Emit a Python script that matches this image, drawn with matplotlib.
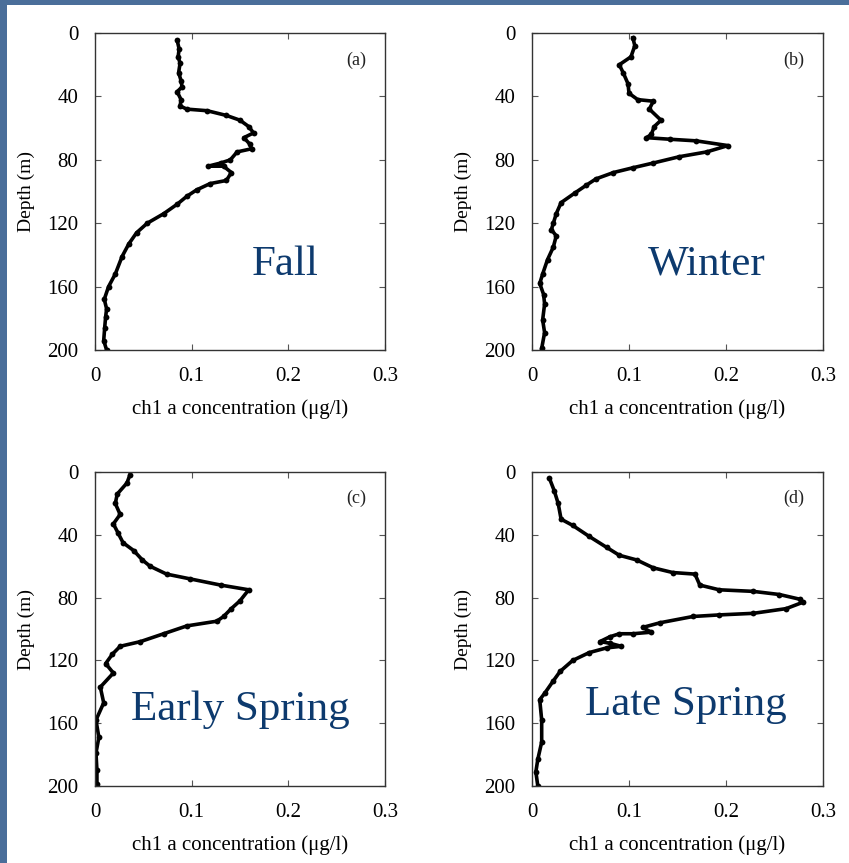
import matplotlib
matplotlib.use("Agg")
import matplotlib.pyplot as plt
from matplotlib.patches import Rectangle

plt.rcParams["font.family"] = ["Liberation Serif", "DejaVu Serif"]

# chl a profiles: depth (m) and concentration (ug/l) per season
FALL_DEPTH = [4.6, 10, 15, 19, 25, 30, 34, 37, 42, 46, 48, 49, 52, 55, 59, 63,
              66, 70, 73, 75, 80, 82, 84, 84, 88, 93, 95, 99, 103, 108, 114,
              120, 126, 133, 141, 152, 160, 168, 174, 179, 186, 194, 200]
FALL_CONC = [0.085, 0.087, 0.086, 0.088, 0.0865, 0.089, 0.090, 0.085, 0.089,
             0.088, 0.095, 0.116, 0.136, 0.150, 0.159, 0.164, 0.154, 0.160,
             0.162, 0.147, 0.140, 0.130, 0.117, 0.133, 0.141, 0.136, 0.119,
             0.105, 0.095, 0.085, 0.071, 0.054, 0.043, 0.035, 0.028, 0.021,
             0.014, 0.0096, 0.012, 0.011, 0.010, 0.009, 0.012]

WINTER_DEPTH = [3, 8, 15, 20, 25, 32, 38, 42, 43, 48, 55, 59, 64, 66, 67, 68,
                71, 75, 78, 82, 85, 88, 92, 96, 101, 107, 114, 120, 124, 128,
                135, 143, 152, 158, 165, 171, 181, 189, 199]
WINTER_CONC = [0.104, 0.106, 0.102, 0.090, 0.094, 0.099, 0.100, 0.109, 0.125,
               0.121, 0.133, 0.126, 0.123, 0.118, 0.142, 0.169, 0.202, 0.180,
               0.152, 0.125, 0.104, 0.084, 0.066, 0.056, 0.044, 0.030, 0.025,
               0.022, 0.020, 0.025, 0.022, 0.016, 0.011, 0.008, 0.012, 0.013,
               0.011, 0.013, 0.010]

EARLY_DEPTH = [2, 7, 14, 20, 27, 33, 39, 45, 50, 56, 60, 65, 68, 72, 75, 82,
               87, 92, 95, 98, 103, 108, 111, 116, 122, 128, 137, 147, 158,
               169, 179, 190, 199]
EARLY_CONC = [0.036, 0.033, 0.023, 0.021, 0.026, 0.019, 0.024, 0.029, 0.040,
              0.049, 0.057, 0.074, 0.098, 0.130, 0.159, 0.150, 0.141, 0.133,
              0.126, 0.095, 0.071, 0.047, 0.026, 0.018, 0.011, 0.019, 0.0055,
              0.009, 0.001, 0.004, 0.001, 0.002, 0.002]

LATE_DEPTH = [4, 12, 20, 30, 34, 41, 48, 53, 56, 61, 64, 65, 72, 75, 76, 78,
              81, 83, 87, 90, 91, 92, 96, 99, 102, 103, 103, 105, 108, 109,
              111, 112, 115, 120, 127, 133, 141, 145, 158, 172, 183, 191, 200]
LATE_CONC = [0.018, 0.023, 0.027, 0.030, 0.042, 0.059, 0.077, 0.090, 0.108,
             0.125, 0.145, 0.168, 0.173, 0.193, 0.228, 0.255, 0.276, 0.279,
             0.262, 0.228, 0.193, 0.166, 0.132, 0.114, 0.123, 0.104, 0.090,
             0.080, 0.070, 0.080, 0.092, 0.077, 0.059, 0.042, 0.029, 0.022,
             0.013, 0.008, 0.010, 0.010, 0.006, 0.004, 0.006]

PANELS = [
    ("(a)", "Fall", FALL_CONC, FALL_DEPTH, (0.655, 0.268)),
    ("(b)", "Winter", WINTER_CONC, WINTER_DEPTH, (0.60, 0.27)),
    ("(c)", "Early Spring", EARLY_CONC, EARLY_DEPTH, (0.50, 0.242)),
    ("(d)", "Late Spring", LATE_CONC, LATE_DEPTH, (0.53, 0.258)),
]
X_TICKS = [0, 0.1, 0.2, 0.3]
X_TICK_LABELS = ["0", "0.1", "0.2", "0.3"]
Y_TICKS = [0, 40, 80, 120, 160, 200]

SLIDE_BLUE = "#4a6e9a"
SEASON_COLOR = "#0d3a6e"

fig = plt.figure(figsize=(8.49, 8.63), dpi=100)
fig.patch.set_facecolor(SLIDE_BLUE)
# white slide area, drawn beneath the axes
fig.patches.append(Rectangle((7 / 849, 0), 1, 1 - 5 / 863, transform=fig.transFigure,
                             facecolor="white", edgecolor="none", zorder=-10))

positions = [
    [0.1119, 0.5944, 0.3416, 0.3673],
    [0.6266, 0.5944, 0.3428, 0.3673],
    [0.1119, 0.0892, 0.3416, 0.3638],
    [0.6266, 0.0892, 0.3428, 0.3638],
]

for pos, (tag, season, conc, depth, txt_xy) in zip(positions, PANELS):
    ax = fig.add_axes(pos)
    ax.patch.set_alpha(0)
    ax.plot(conc, depth, "-o", color="black", linewidth=2.6, markersize=4.2,
            markeredgewidth=0)
    ax.set_xlim(0, 0.3)
    ax.set_ylim(200, 0)
    ax.set_xticks(X_TICKS)
    ax.set_xticklabels(X_TICK_LABELS)
    ax.set_yticks(Y_TICKS)
    ax.tick_params(direction="in", length=4, width=0.8, color="#555555",
                   top=True, right=True, labelsize=15, pad=12)
    for sp in ax.spines.values():
        sp.set_linewidth(1.0)
        sp.set_color("#333333")
    ax.set_xlabel("ch1 a concentration (\u03bcg/l)", fontsize=15, labelpad=10)
    ax.set_ylabel("Depth (m)", fontsize=14, labelpad=9)
    ax.text(0.90, 0.915, tag, transform=ax.transAxes, ha="center", va="center",
            fontsize=13, color="#222222")
    ax.text(txt_xy[0], txt_xy[1], season, transform=ax.transAxes, ha="center",
            va="center", fontsize=31, color=SEASON_COLOR)

fig.savefig("out.png", dpi=100, facecolor=fig.get_facecolor())
